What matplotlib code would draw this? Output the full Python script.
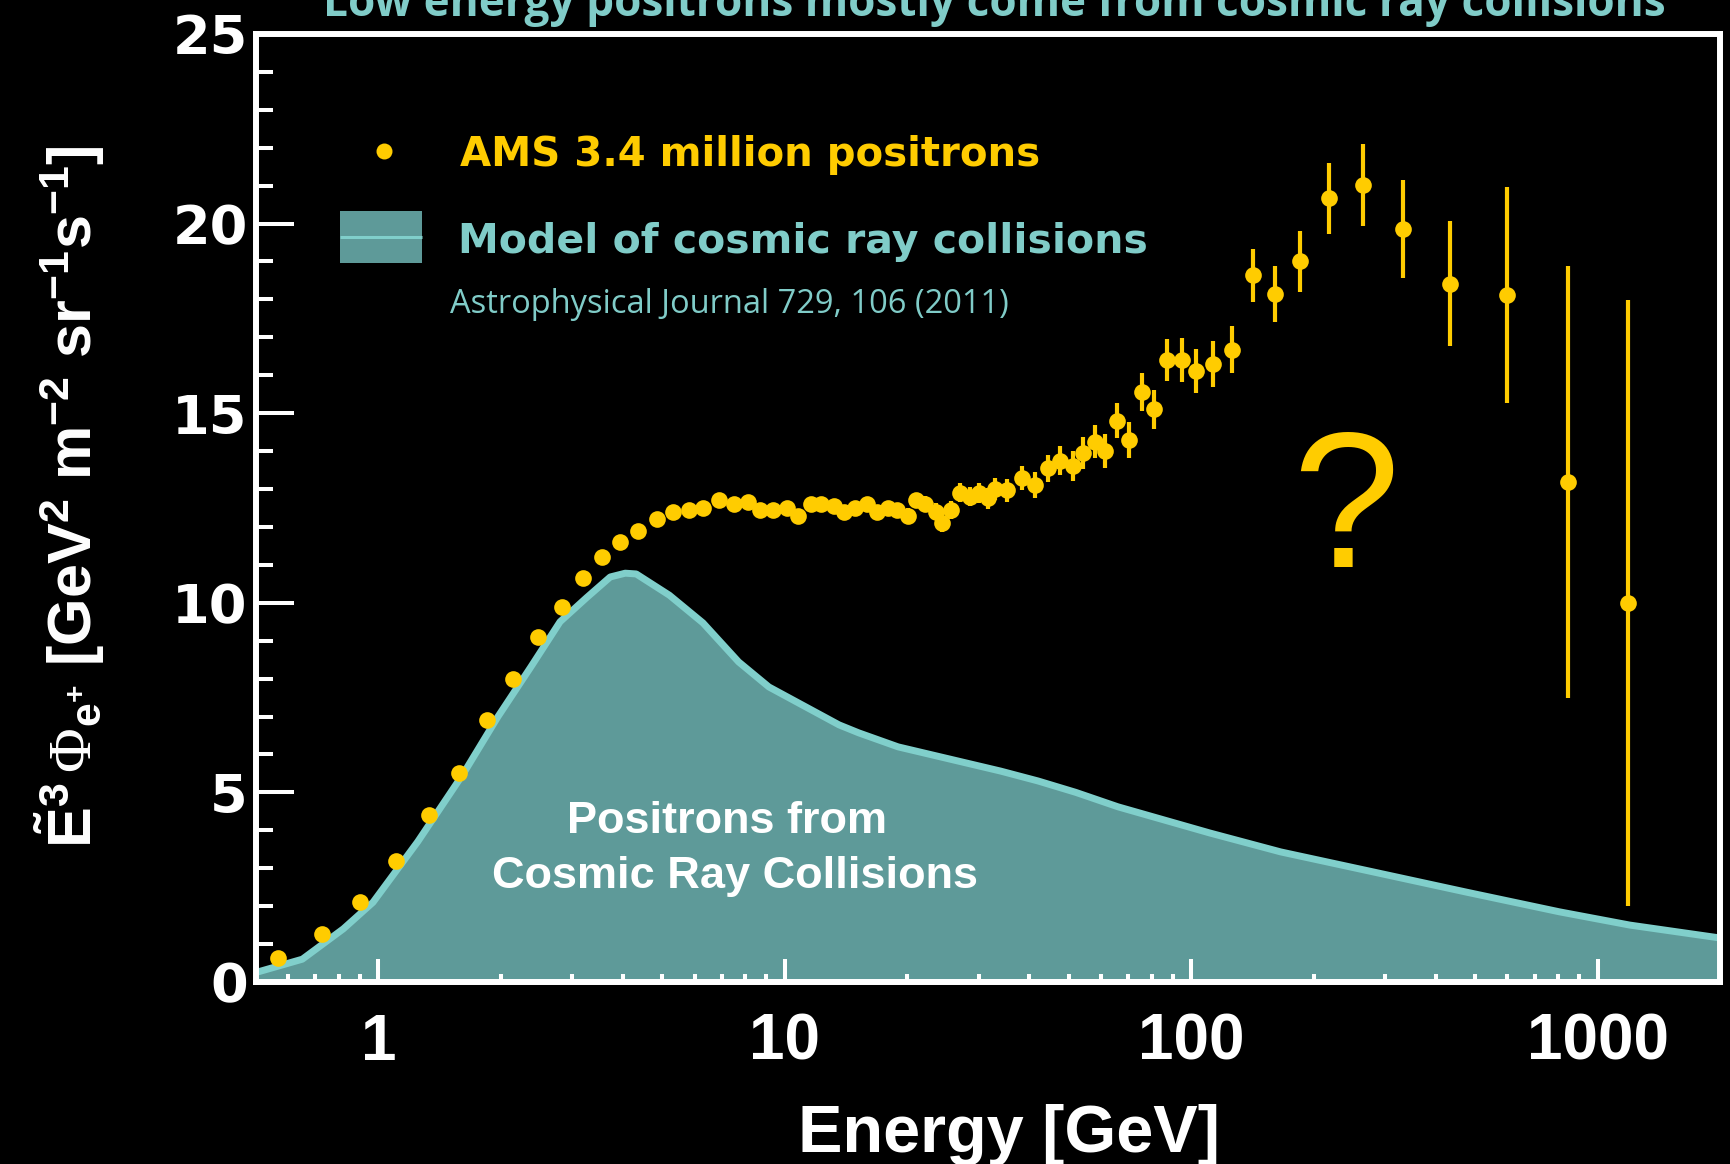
"""AMS positron flux (E^3 weighted) against the cosmic ray collision model."""

from __future__ import annotations

import matplotlib
import numpy as np

matplotlib.use("Agg")

import matplotlib.pyplot as plt
from matplotlib.patches import Rectangle
from matplotlib.ticker import FixedLocator, LogLocator, NullFormatter


YELLOW = "#ffcc00"
TEAL_FILL = "#5e9a99"
TEAL_LINE = "#80cfcb"
TEAL_TEXT = "#80ccc8"

# AMS measured points, E^3 x flux [GeV^2 m^-2 sr^-1 s^-1]
ams_energy = [
    0.567, 0.727, 0.90, 1.107, 1.33, 1.58, 1.85, 2.14, 2.47, 2.83,
    3.19, 3.56, 3.94, 4.36, 4.86, 5.30, 5.80, 6.30, 6.90, 7.50,
    8.10, 8.70, 9.35, 10.1, 10.8, 11.6, 12.3, 13.2, 14.0, 14.9,
    15.9, 16.9, 17.9, 18.9, 20.1, 21.0, 22.1, 23.5, 24.4, 25.7,
    27.0, 28.5, 30.0, 31.6, 33.0, 35.3, 38.4, 41.3, 44.5, 47.5,
    51.2, 54.2, 58.1, 61.4, 65.8, 70.2, 75.7, 81.1, 87.4, 94.8,
    103, 113, 126, 142, 161, 185, 218, 265, 332, 433,
    598, 845, 1189,
]
ams_flux = [
    0.63, 1.26, 2.10, 3.20, 4.40, 5.50, 6.90, 8.00, 9.10, 9.90,
    10.65, 11.20, 11.60, 11.90, 12.20, 12.40, 12.45, 12.50, 12.70, 12.60,
    12.65, 12.45, 12.45, 12.50, 12.30, 12.60, 12.60, 12.55, 12.40, 12.50,
    12.60, 12.40, 12.50, 12.45, 12.30, 12.70, 12.60, 12.40, 12.10, 12.45,
    12.90, 12.80, 12.90, 12.75, 13.00, 12.97, 13.30, 13.10, 13.55, 13.75,
    13.60, 13.95, 14.25, 14.00, 14.80, 14.30, 15.55, 15.10, 16.40, 16.40,
    16.10, 16.30, 16.67, 18.64, 18.14, 19.00, 20.67, 21.02, 19.86, 18.41,
    18.12, 13.19, 9.99,
]
ams_error = [
    0.05, 0.05, 0.05, 0.05, 0.05, 0.05, 0.05, 0.05, 0.05, 0.05,
    0.07, 0.07, 0.07, 0.07, 0.07, 0.08, 0.08, 0.08, 0.09, 0.10,
    0.11, 0.11, 0.12, 0.12, 0.13, 0.13, 0.14, 0.14, 0.15, 0.15,
    0.16, 0.17, 0.18, 0.18, 0.19, 0.20, 0.21, 0.22, 0.23, 0.24,
    0.25, 0.26, 0.27, 0.28, 0.29, 0.30, 0.32, 0.34, 0.36, 0.38,
    0.40, 0.42, 0.44, 0.45, 0.46, 0.48, 0.50, 0.52, 0.55, 0.57,
    0.58, 0.60, 0.62, 0.70, 0.74, 0.80, 0.94, 1.08, 1.30, 1.65,
    2.85, 5.70, 8.00,
]

# Model of secondary positrons (ApJ 729, 106)
model_energy = [
    0.5, 0.65, 0.82, 0.97, 1.25, 1.62, 1.97, 2.37, 2.8, 3.25,
    3.72, 4.05, 4.31, 5.2, 6.29, 7.7, 9.14, 10.8, 13.6, 15.2,
    19.0, 23.0, 29.4, 34, 42, 52, 66, 111, 166, 281,
    475, 805, 1200, 2000,
]
model_flux = [
    0.25, 0.6, 1.4, 2.1, 3.7, 5.5, 7.0, 8.3, 9.5, 10.13,
    10.68, 10.78, 10.76, 10.2, 9.47, 8.44, 7.78, 7.36, 6.78, 6.57,
    6.2, 5.99, 5.72, 5.56, 5.3, 5.0, 4.62, 3.93, 3.43, 2.9,
    2.37, 1.85, 1.5, 1.16,
]

x_major_ticks = [1, 10, 100, 1000]
x_tick_labels = ["1", "10", "100", "1000"]
y_major_ticks = [0, 5, 10, 15, 20, 25]
y_tick_labels = ["0", "5", "10", "15", "20", "25"]

TITLE = "Low energy positrons mostly come from cosmic ray collisions"
Y_LABEL = (
    r"$\tilde{\mathbf{E}}^{\mathbf{3}}\,\mathsf{\Phi}_{\mathbf{e}^{\mathbf{+}}}$"
    r" [GeV$^{\mathbf{2}}$ m$^{\mathbf{-2}}$ sr$^{\mathbf{-1}}$s$^{\mathbf{-1}}$]"
)


def setup_fonts() -> None:
    plt.rcParams["mathtext.fontset"] = "custom"
    plt.rcParams["mathtext.rm"] = "Liberation Sans:bold"
    plt.rcParams["mathtext.it"] = "Liberation Sans:bold"
    plt.rcParams["mathtext.bf"] = "Liberation Sans:bold"
    plt.rcParams["mathtext.sf"] = "Liberation Serif"


def style_axes(ax) -> None:
    ax.set_facecolor("black")
    ax.set_xscale("log")
    ax.set_xlim(0.5, 2000)
    ax.set_ylim(0, 25)

    ax.xaxis.set_major_locator(FixedLocator(x_major_ticks))
    ax.xaxis.set_minor_locator(LogLocator(base=10, subs=np.arange(2, 10), numticks=100))
    ax.xaxis.set_minor_formatter(NullFormatter())
    ax.set_xticks(x_major_ticks, labels=x_tick_labels,
                  fontfamily="Liberation Sans", fontweight="bold")
    ax.set_yticks(y_major_ticks, labels=y_tick_labels,
                  fontfamily="DejaVu Sans", fontweight="bold")
    ax.set_yticks(np.arange(0, 26), minor=True)

    ax.tick_params(axis="y", which="major", direction="in", length=27, width=2.9,
                   color="white", labelcolor="white", labelsize=39, pad=6)
    ax.tick_params(axis="y", which="minor", direction="in", length=12, width=2.9,
                   color="white")
    ax.tick_params(axis="x", which="major", direction="in", length=16.5, width=2.9,
                   color="white", labelcolor="white", labelsize=46, pad=22)
    ax.tick_params(axis="x", which="minor", direction="in", length=6, width=2.9,
                   color="white")

    for spine in ax.spines.values():
        spine.set_color("white")
        spine.set_linewidth(4.3)


def draw_legend(ax) -> None:
    ax.plot([0.0874], [0.8766], "o", ms=11.5, color=YELLOW, mew=0,
            transform=ax.transAxes, clip_on=False)
    ax.text(0.1393, 0.8608, "AMS 3.4 million positrons", transform=ax.transAxes,
            fontsize=29, fontfamily="DejaVu Sans", fontweight="bold",
            color=YELLOW, va="baseline")

    ax.add_patch(Rectangle((0.0574, 0.7584), 0.056, 0.0549, transform=ax.transAxes,
                           facecolor=TEAL_FILL, edgecolor="none", clip_on=False))
    ax.plot([0.0574, 0.1134], [0.7859, 0.7859], color=TEAL_LINE, lw=2.2,
            transform=ax.transAxes, solid_capstyle="butt")
    ax.text(0.138, 0.769, "Model of cosmic ray collisions", transform=ax.transAxes,
            fontsize=29.5, fontfamily="DejaVu Sans", fontweight="bold",
            color=TEAL_TEXT, va="baseline")
    ax.text(0.1325, 0.7057, "Astrophysical Journal 729, 106 (2011)",
            transform=ax.transAxes, fontsize=23.5, fontfamily="Open Sans",
            color=TEAL_TEXT, va="baseline")


def main() -> None:
    setup_fonts()
    fig = plt.figure(figsize=(17.31, 11.64), dpi=100, facecolor="black")
    ax = fig.add_axes([0.1479, 0.1564, 0.8457, 0.8144])

    ax.fill_between(model_energy, model_flux, 0, color=TEAL_FILL, lw=0, zorder=1)
    ax.plot(model_energy, model_flux, color=TEAL_LINE, lw=5, zorder=1.2)
    ax.errorbar(ams_energy, ams_flux, yerr=ams_error, fmt="o", color=YELLOW,
                ms=12, mew=0, elinewidth=3, capsize=4, capthick=3, zorder=3)
    style_axes(ax)
    draw_legend(ax)

    ax.text(0.7445, 0.4378, "?", transform=ax.transAxes, ha="center", va="baseline",
            fontsize=139, fontfamily="Liberation Sans", color=YELLOW)
    ax.text(0.3217, 0.1572, "Positrons from", transform=ax.transAxes, ha="center",
            va="baseline", fontsize=32.5, fontfamily="Liberation Sans",
            fontweight="bold", color="white")
    ax.text(0.3272, 0.0992, "Cosmic Ray Collisions", transform=ax.transAxes,
            ha="center", va="baseline", fontsize=32.5, fontfamily="Liberation Sans",
            fontweight="bold", color="white")

    fig.text(0.5742, 1 - 16 / 1164, TITLE, ha="center", va="baseline", fontsize=31.8,
             fontfamily="Open Sans", fontweight="bold", color=TEAL_TEXT)
    fig.text(70 / 1731, 1 - 497 / 1164, Y_LABEL, rotation=90, ha="center",
             va="center", fontsize=44, fontfamily="Liberation Sans",
             fontweight="bold", color="white")
    fig.text(0.583, 12 / 1164, "Energy [GeV]", ha="center", va="baseline",
             fontsize=48, fontfamily="Liberation Sans", fontweight="bold",
             color="white")

    fig.savefig("out.png", dpi=100, facecolor="black")
    plt.close(fig)


if __name__ == "__main__":
    main()
